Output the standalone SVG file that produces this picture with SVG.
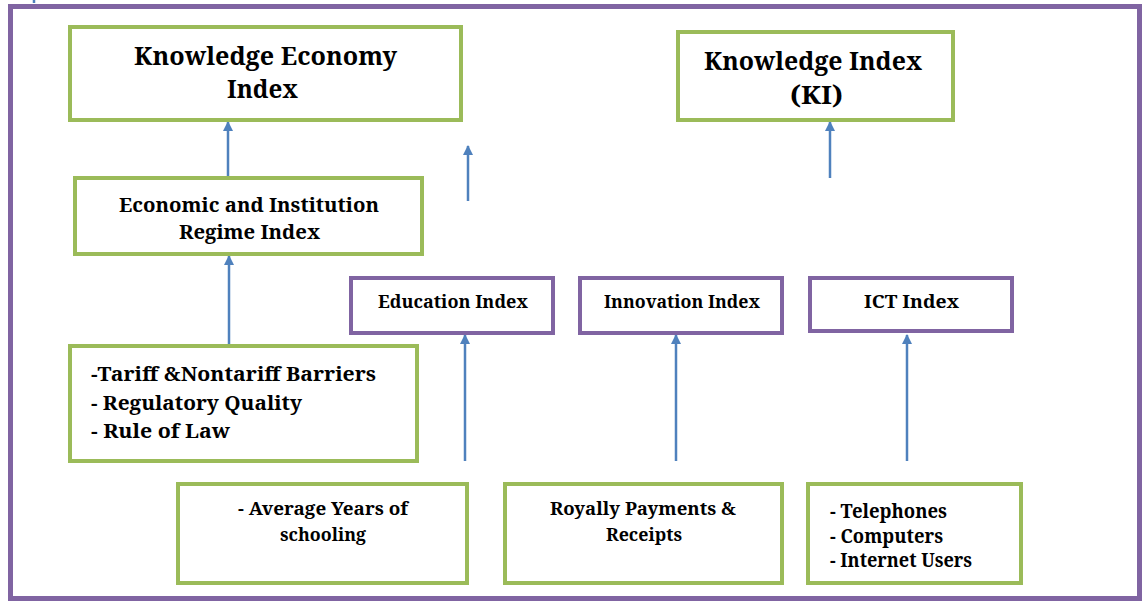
<svg xmlns="http://www.w3.org/2000/svg" width="1142" height="601" viewBox="0 0 1142 601">
<defs>
<marker id="ah" viewBox="0 0 10 10" refX="9" refY="5" markerWidth="10" markerHeight="10" markerUnits="userSpaceOnUse" orient="auto">
<path d="M0,0 L10,5 L0,10 Z" fill="#4F81BD"/>
</marker>
<style>
.g{fill:#fff;stroke:#9BBB59;stroke-width:4}
.p{fill:#fff;stroke:#8064A2;stroke-width:4}
text{font-family:"Noto Serif","DejaVu Serif","Liberation Serif",serif;font-weight:bold;fill:#000}
.c{text-anchor:middle}
.a{stroke:#4F81BD;stroke-width:2.5;fill:none;marker-end:url(#ah)}
</style>
</defs>
<rect x="0" y="0" width="1142" height="601" fill="#fff"/>
<rect x="10.5" y="6.5" width="1129" height="592" fill="none" stroke="#8064A2" stroke-width="5"/>
<g id="connectors">
<line x1="34" y1="0" x2="34" y2="3" stroke="#4F81BD" stroke-width="2.5"/>
<line class="a" x1="228" y1="176" x2="228" y2="122"/>
<line class="a" x1="468" y1="201" x2="468" y2="146"/>
<line class="a" x1="830" y1="178" x2="830" y2="122"/>
<line class="a" x1="229" y1="344" x2="229" y2="256"/>
<line class="a" x1="465" y1="461" x2="465" y2="335"/>
<line class="a" x1="676" y1="461" x2="676" y2="335"/>
<line class="a" x1="907" y1="461" x2="907" y2="335"/>
</g>
<g id="kei">
<rect class="g" x="70" y="27" width="391" height="93"/>
<text x="134" y="65" font-size="25" textLength="263" lengthAdjust="spacingAndGlyphs">Knowledge Economy</text>
<text x="227" y="98" font-size="25" textLength="71" lengthAdjust="spacingAndGlyphs">Index</text>
</g>
<g id="ki">
<rect class="g" x="678" y="32" width="275" height="88"/>
<text x="704" y="70" font-size="25" textLength="218" lengthAdjust="spacingAndGlyphs">Knowledge Index</text>
<text x="790" y="104" font-size="25" textLength="53" lengthAdjust="spacingAndGlyphs">(KI)</text>
</g>
<g id="eir">
<rect class="g" x="75" y="178" width="347" height="76"/>
<text x="119" y="212" font-size="20" textLength="260" lengthAdjust="spacingAndGlyphs">Economic and Institution</text>
<text x="179" y="239" font-size="20" textLength="141" lengthAdjust="spacingAndGlyphs">Regime Index</text>
</g>
<g id="tariff">
<rect class="g" x="70" y="346" width="347" height="115"/>
<text x="91" y="381" font-size="20" textLength="285" lengthAdjust="spacingAndGlyphs">-Tariff &amp;Nontariff Barriers</text>
<text x="91" y="410" font-size="20" textLength="211" lengthAdjust="spacingAndGlyphs">- Regulatory Quality</text>
<text x="91" y="438" font-size="20" textLength="139" lengthAdjust="spacingAndGlyphs">- Rule of Law</text>
</g>
<g id="edu">
<rect class="p" x="351" y="278" width="202" height="55"/>
<text x="378" y="308" font-size="18" textLength="150" lengthAdjust="spacingAndGlyphs">Education Index</text>
</g>
<g id="inno">
<rect class="p" x="580" y="278" width="202" height="55"/>
<text x="604" y="308" font-size="18" textLength="156" lengthAdjust="spacingAndGlyphs">Innovation Index</text>
</g>
<g id="ict">
<rect class="p" x="810" y="278" width="202" height="53"/>
<text x="864" y="308" font-size="18" textLength="95" lengthAdjust="spacingAndGlyphs">ICT Index</text>
</g>
<g id="schooling">
<rect class="g" x="178" y="484" width="289" height="99"/>
<text x="238" y="515" font-size="18" textLength="170" lengthAdjust="spacingAndGlyphs">- Average Years of</text>
<text x="280" y="541" font-size="18" textLength="86" lengthAdjust="spacingAndGlyphs">schooling</text>
</g>
<g id="royalty">
<rect class="g" x="505" y="484" width="277" height="99"/>
<text x="550" y="515" font-size="18" textLength="186" lengthAdjust="spacingAndGlyphs">Royally Payments &amp;</text>
<text x="606" y="541" font-size="18" textLength="76" lengthAdjust="spacingAndGlyphs">Receipts</text>
</g>
<g id="ictin">
<rect class="g" x="808" y="484" width="213" height="99"/>
<text x="830" y="518" font-size="19" textLength="117" lengthAdjust="spacingAndGlyphs">-  Telephones</text>
<text x="830" y="543" font-size="19" textLength="113" lengthAdjust="spacingAndGlyphs">- Computers</text>
<text x="830" y="567" font-size="19" textLength="142" lengthAdjust="spacingAndGlyphs">- Internet Users</text>
</g>
</svg>
